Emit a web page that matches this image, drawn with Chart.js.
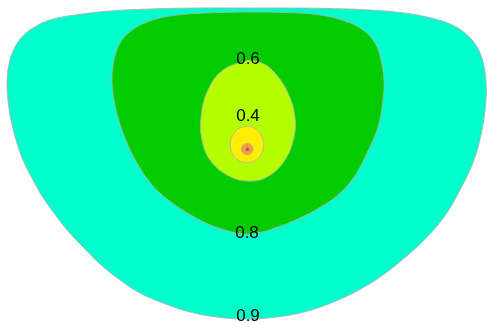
<!DOCTYPE html>
<html>
<head>
<meta charset="utf-8">
<script src="https://cdn.jsdelivr.net/npm/chart.js@4/dist/chart.umd.min.js"></script>
<style>
  html, body { margin: 0; padding: 0; background: #ffffff; }
  #wrap { width: 487px; height: 323px; }
</style>
</head>
<body>
<div id="wrap"><canvas id="c" width="487" height="323"></canvas></div>
<script>
// Contour levels (outer to inner) and their fill colours
const levels = ['0.9', '0.8', '0.6', '0.4', '0.2', '0.1'];
const levelColors = ['#00FFCC', '#00CC00', '#B3FF00', '#FFEE00', '#F5A030', '#FF2A2A'];

// Boundary x / y values (data units)
const c09x = [245,290,330,370,400,427,450,466,477,483,486,486,482,474,460,444,424,402,380,357,331,304,277,247,217,190,163,140,120,100,84,68,54,42,32,23,16,11,8,7,9,14,22,33,50,75,110,150,195,245];
const c09y = [8,8,8.5,10,12.5,17,24,34,47,62,82,100,130,160,190,217,240,260,277,291,303,312,317,319,317,312,303,293,280,264,248,231,213,196,178,160,140,120,100,82,64,49,37,28,20,15,11,9,8,8];

const c08x = [245,285,320,345,363,375,381,384,383,378,367,354,338,319,298,278,262,245,230,213,196,178,161,148,137,127,119,114,112,114,120,131,147,170,205,245];
const c08y = [12,12.5,15,21,30,43,60,80,100,127,153,177,195,208,219,227,232,234,231.5,226,218,207,194,180,163,143,121,100,80,60,43,31,22,16,13,12];

const c06x = [248,262,275,288,295,294,285,267,247,227,210,202,201,208,223,248];
const c06y = [60,63,73,93,117,137,160,177,181,175,160,140,117,90,70,60];

const c04x = [247,255.4,261.5,263.7,261.5,255.4,247,238.6,232.5,230.3,232.5,238.6,247];
const c04y = [126,128.5,135.5,145,153.9,160.3,162.7,160.3,153.9,145,135.5,128.5,126];

const c02x = [247.3,251.4,253.1,251.4,247.3,243.2,241.5,243.2,247.3];
const c02y = [143.2,144.9,149,153.1,154.8,153.1,149,144.9,143.2];

const c01x = [247.5,248.9,249.5,248.9,247.5,246.1,245.5,246.1,247.5];
const c01y = [147.3,147.9,149.3,150.7,151.3,150.7,149.3,147.9,147.3];

// Contour labels
const labelText = ['0.6', '0.4', '0.8', '0.9'];
const labelX = [248, 248, 247, 248];
const labelY = [59, 116, 233, 316];

function pts(xs, ys) { return xs.map((x, i) => ({ x: x, y: ys[i] })); }

const shapes = [
  pts(c09x, c09y), pts(c08x, c08y), pts(c06x, c06y),
  pts(c04x, c04y), pts(c02x, c02y), pts(c01x, c01y)
];

const datasets = shapes.map((d, i) => ({
  label: levels[i],
  data: d,
  fill: 'shape',
  backgroundColor: levelColors[i],
  borderColor: 'rgba(175,175,175,0.85)',
  borderWidth: 1,
  pointRadius: 0,
  tension: 0.4,
  order: shapes.length - i
}));

const labelPlugin = {
  id: 'contourLabels',
  afterDatasetsDraw(chart) {
    const ctx = chart.ctx;
    const xs = chart.scales.x, ys = chart.scales.y;
    ctx.save();
    ctx.font = '17px "Liberation Sans", Arial, sans-serif';
    ctx.fillStyle = '#000000';
    ctx.textAlign = 'center';
    ctx.textBaseline = 'middle';
    labelText.forEach((t, i) => {
      ctx.fillText(t, xs.getPixelForValue(labelX[i]), ys.getPixelForValue(labelY[i]));
    });
    ctx.restore();
  }
};

new Chart(document.getElementById('c'), {
  type: 'line',
  data: { datasets: datasets },
  options: {
    responsive: false,
    animation: false,
    layout: { padding: 0 },
    plugins: { legend: { display: false }, tooltip: { enabled: false } },
    scales: {
      x: { type: 'linear', min: 0, max: 487, display: false },
      y: { type: 'linear', min: 0, max: 323, reverse: true, display: false }
    }
  },
  plugins: [labelPlugin]
});
</script>
</body>
</html>
